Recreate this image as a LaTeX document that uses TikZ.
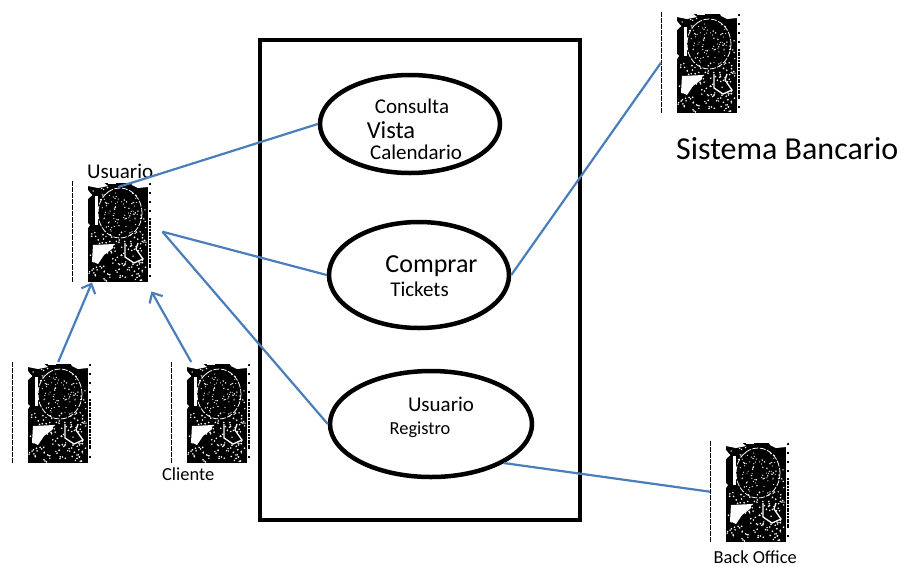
\documentclass[tikz,border=0pt]{standalone}
\usepackage{fontspec}
\setmainfont{Carlito}
\usetikzlibrary{shapes,arrows.meta,calc,positioning}

\definecolor{linkblue}{HTML}{4A7EBB}

% the broken actor picture: black block with white specks
\newcommand{\actorface}[1]{
  \begin{scope}[shift={(#1.north west)}]
  \draw[black, line width=0.8, dash pattern=on 5 off 1] (0.5,0) -- (0.5,101);
  \fill[black] (16,2) rectangle (76,101);
  \draw[black, line width=2.5, dash pattern=on 2 off 7] (78,2) -- (78,37);
  \draw[black, line width=2.5, dash pattern=on 2 off 0.7] (78,37) -- (78,85);
  \draw[black, line width=2.5, dash pattern=on 2 off 7] (78,85) -- (78,101);
  \fill[white] (16,0) -- (30,0) -- (36,5) -- (26,7) -- (16,5) -- cycle;
  \fill[white] (36,0) rectangle (44,3);
  \fill[white] (58,0) -- (78,0) -- (76,6) -- (66,7) -- (60,4) -- cycle;
  \fill[white] (16,9) -- (20,14) -- (16,18) -- cycle;
  \fill[white] (23,15) rectangle (26,44);
  \fill[white] (21,64) -- (42,63) -- (40,68) -- (32,74) -- (26,83) -- (20,80) -- cycle;
  \fill[white] (16,42) -- (18,44) -- (16,47) -- cycle;
  \draw[white, line width=0.8, dash pattern=on 6 off 1.5] (48,32) ellipse (22 and 25);
  \draw[white, line width=1.3] (53,62) -- (53,76) -- (62,82) -- (71,78) -- (64,68) -- (66,62);
  \pgfmathsetseed{4711}
  \foreach \i in {1,...,70}{
    \pgfmathsetmacro{\px}{17+58*rnd}
    \pgfmathsetmacro{\py}{5+95*rnd}
    \fill[white] (\px,\py) circle (0.8);
  }
  \foreach \i in {1,...,70}{
    \pgfmathsetmacro{\px}{30+36*rnd}
    \pgfmathsetmacro{\py}{12+40*rnd}
    \fill[white] (\px,\py) circle (0.6);
  }
  \foreach \i in {1,...,90}{
    \pgfmathsetmacro{\px}{18+56*rnd}
    \pgfmathsetmacro{\py}{50+50*rnd}
    \fill[white] (\px,\py) circle (0.9);
  }
  \end{scope}
}

\begin{document}
\begin{tikzpicture}[
  x=1pt, y=-1pt,
  actor/.style={rectangle, inner sep=0, anchor=north west, minimum width=80, minimum height=101},
  usecase/.style={ellipse, draw, line width=4.5, inner sep=0, fill=white},
  caption/.style={inner sep=0, font=\fontsize{21}{25}\selectfont},
  small/.style={inner sep=0, font=\fontsize{18.4}{22}\selectfont},
  big/.style={inner sep=0, font=\fontsize{24.5}{29}\selectfont},
  link/.style={linkblue, line width=2.2},
  uses/.style={link, -{Straight Barb[length=8,width=15]}}
  ]
  \useasboundingbox (0,0) rectangle (901,566);

  \node[draw, line width=4.5, rectangle, minimum width=320, minimum height=480, inner sep=0] (system) at (420,280) {};

  \node[usecase, minimum width=180, minimum height=98] (consulta) at (410,124) {};
  \node[usecase, minimum width=180, minimum height=106] (comprar) at (419,275) {};
  \node[usecase, minimum width=202, minimum height=106] (registro) at (431,424) {};

  \node[caption] (consultaA) at ($(consulta)+(2,-18)$) {Consulta};
  \node[big] (consultaB) at ($(consulta)+(-19,6)$) {Vista};
  \node[caption] (consultaC) at ($(consulta)+(6,28)$) {Calendario};

  \node[big, font=\fontsize{26}{31}\selectfont] (comprarA) at ($(comprar)+(12.5,-9)$) {Comprar};
  \node[caption] (comprarB) at ($(comprar)+(0.5,14)$) {Tickets};

  \node[caption] (registroA) at ($(registro)+(10,-20)$) {Usuario};
  \node[small] (registroB) at ($(registro)+(-11,6)$) {Registro};

  \node[actor] (usuario) at (72,181) {};
  \node[actor] (cliente1) at (12,362) {};
  \node[actor] (cliente2) at (171,362) {};
  \node[actor] (banco) at (661,12) {};
  \node[actor] (back) at (710,441) {};
  \foreach \a in {usuario,cliente1,cliente2,banco,back} {\actorface{\a}}

  \node[caption, above=2pt of usuario, xshift=8pt] (usuarioL) {Usuario};
  \node[small, below=4pt of cliente2, xshift=-23pt] (clienteL) {Cliente};
  \node[small, below=8pt of back, xshift=5pt] (backL) {Back Office};
  \node[inner sep=0, font=\fontsize{32}{38}\selectfont, below=24pt of banco, xshift=86pt] (bancoL) {Sistema Bancario};

  \draw[link] ([shift={(6pt,-6pt)}]usuario.north) -- (consulta.west);
  \draw[link] ([xshift=10pt]usuario.east) -- (comprar.west);
  \draw[link] ([xshift=10pt]usuario.east) -- (registro.west);
  \draw[link] (comprar.east) -- (banco.west);
  \draw[link] (registro.south east) -- (back.west);

  \draw[uses] ([xshift=6pt]cliente1.north) -- ([xshift=20pt]usuario.south west);
  \draw[uses] ([xshift=-20pt]cliente2.north) -- ([shift={(-1pt,-9pt)}]usuario.south east);
\end{tikzpicture}
\end{document}
